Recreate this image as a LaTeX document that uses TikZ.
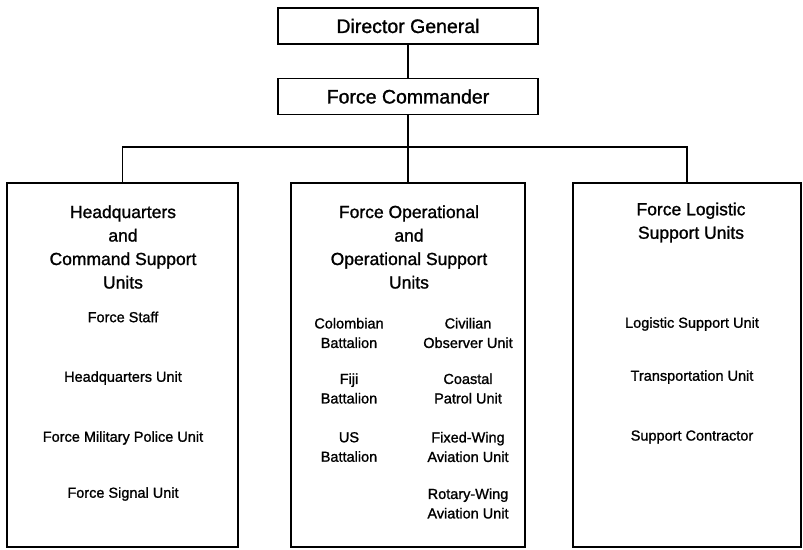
\documentclass[tikz,border=0pt]{standalone}
\usepackage{fontspec}
\setmainfont{Liberation Sans}[FakeBold=1.2]
\begin{document}
\begin{tikzpicture}[x=1pt,y=-1pt,
  line width=1.6pt,
  topbox/.style={draw, rectangle, minimum width=260pt, minimum height=36pt,
    inner sep=0pt, font=\fontsize{19.5}{23}\selectfont},
  unitbox/.style={draw, rectangle, minimum height=364pt, inner sep=0pt},
  headtext/.style={align=center, inner sep=0pt, font=\fontsize{17.5}{23.5}\selectfont},
  itemtext/.style={align=center, inner sep=0pt, font=\fontsize{14.5}{19.5}\selectfont}]
\useasboundingbox (0,0) rectangle (803,549);

% command chain
\node[topbox] (dg) at (408,26) {Director General};
\node[topbox] (fc) at (408,96.5) {Force Commander};

% the three groups of units
\node[unitbox, minimum width=231pt] (hq)  at (122.5,365) {};
\node[unitbox, minimum width=234pt] (ops) at (408,365) {};
\node[unitbox, minimum width=228pt] (log) at (687,365) {};

% connectors
\coordinate (bus) at (408,147);
\draw (dg) -- (fc);
\draw (fc) -- (ops);
\draw (hq.north) |- (bus) -| (log.north);

% headquarters and command support
\node[headtext] (hqt) at (123,247) {Headquarters\\and\\Command Support\\Units};
\node[itemtext] (hq1) at (123,317) {Force Staff};
\node[itemtext] (hq2) at (123,378) {Headquarters Unit};
\node[itemtext] (hq3) at (123,438) {Force Military Police Unit};
\node[itemtext] (hq4) at (123,494) {Force Signal Unit};

% operational and operational support
\node[headtext] (opt) at (409,247) {Force Operational\\and\\Operational Support\\Units};
\node[itemtext] (op1) at (349,333) {Colombian\\Battalion};
\node[itemtext] (op2) at (349,388.5) {Fiji\\Battalion};
\node[itemtext] (op3) at (349,447) {US\\Battalion};
\node[itemtext] (op4) at (468,333) {Civilian\\Observer Unit};
\node[itemtext] (op5) at (468,388.5) {Coastal\\Patrol Unit};
\node[itemtext] (op6) at (468,447) {Fixed-Wing\\Aviation Unit};
\node[itemtext] (op7) at (468,503.5) {Rotary-Wing\\Aviation Unit};

% logistic support
\node[headtext] (lgt) at (691,222.5) {Force Logistic\\Support Units};
\node[itemtext] (lg1) at (692,324) {Logistic Support Unit};
\node[itemtext] (lg2) at (692,377) {Transportation Unit};
\node[itemtext] (lg3) at (692,437) {Support Contractor};
\end{tikzpicture}
\end{document}
